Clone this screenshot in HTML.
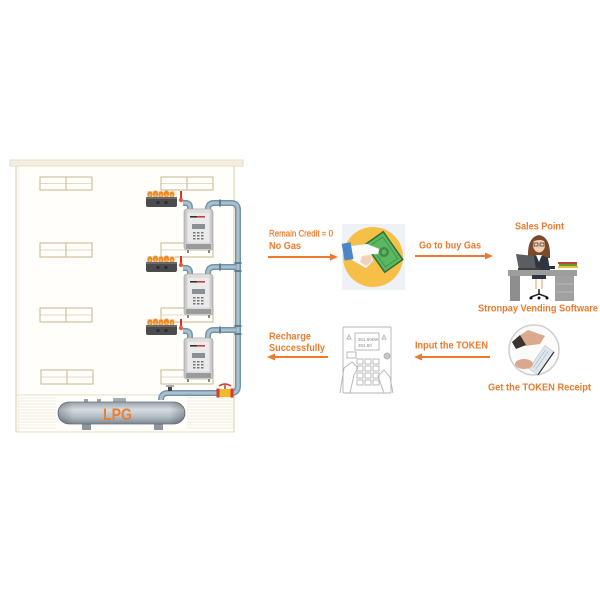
<!DOCTYPE html>
<html><head><meta charset="utf-8">
<style>
html,body{margin:0;padding:0;background:#fff;}
svg{display:block;}
text{font-family:"Liberation Sans",Arial,sans-serif;fill:#ee7b2d;font-weight:bold;}
</style></head>
<body>
<svg width="600" height="600" viewBox="0 0 600 600" xmlns="http://www.w3.org/2000/svg">
<defs>
<linearGradient id="tank" x1="0" y1="0" x2="0" y2="1">
<stop offset="0" stop-color="#97a2ab"/>
<stop offset="0.35" stop-color="#d6dce1"/>
<stop offset="0.7" stop-color="#b0b9c0"/>
<stop offset="1" stop-color="#7b8790"/>
</linearGradient>
<linearGradient id="tankEnd" x1="0" y1="0" x2="1" y2="0">
<stop offset="0" stop-color="#000" stop-opacity="0.25"/>
<stop offset="0.12" stop-color="#000" stop-opacity="0"/>
<stop offset="0.88" stop-color="#000" stop-opacity="0"/>
<stop offset="1" stop-color="#000" stop-opacity="0.25"/>
</linearGradient>
<linearGradient id="meterG" x1="0" y1="0" x2="1" y2="0">
<stop offset="0" stop-color="#bdbdbd"/>
<stop offset="0.15" stop-color="#e0e0e0"/>
<stop offset="0.85" stop-color="#e4e4e4"/>
<stop offset="1" stop-color="#b8b8b8"/>
</linearGradient>
<g id="meter">
<rect x="0" y="0" width="29" height="41" rx="3" fill="url(#meterG)" stroke="#a9a9a9" stroke-width="0.7"/>
<rect x="3" y="3" width="23" height="31" rx="1.5" fill="#eaeaea" stroke="#c4c4c4" stroke-width="0.5"/>
<rect x="6" y="7" width="7" height="1.6" fill="#333"/>
<rect x="13" y="7" width="8" height="1.6" fill="#d23a3a"/>
<rect x="8" y="15" width="13" height="5" fill="#8a8f93"/>
<g fill="#777">
<rect x="9" y="23" width="2.5" height="1.5"/><rect x="13" y="23" width="2.5" height="1.5"/><rect x="17" y="23" width="2.5" height="1.5"/>
<rect x="9" y="26" width="2.5" height="1.5"/><rect x="13" y="26" width="2.5" height="1.5"/><rect x="17" y="26" width="2.5" height="1.5"/>
<rect x="9" y="29" width="2.5" height="1.5"/><rect x="13" y="29" width="2.5" height="1.5"/><rect x="17" y="29" width="2.5" height="1.5"/>
</g>
<rect x="2" y="35" width="25" height="5" fill="#9a9a9a"/>
<rect x="3" y="41" width="2" height="3" fill="#888"/><rect x="24" y="41" width="2" height="3" fill="#888"/>
</g>
<g id="stove">
<rect x="147" y="-6" width="28" height="6" fill="#efe6d6"/>
<g fill="#f08a28">
<ellipse cx="150" cy="-2.5" rx="2.6" ry="3.2"/><ellipse cx="155.5" cy="-3" rx="2.6" ry="3.5"/><ellipse cx="161" cy="-2.5" rx="2.6" ry="3.2"/><ellipse cx="166.5" cy="-3" rx="2.6" ry="3.5"/><ellipse cx="172" cy="-2.5" rx="2.4" ry="3"/>
</g>
<g fill="#f7b558">
<ellipse cx="150" cy="-1.5" rx="1.2" ry="1.5"/><ellipse cx="155.5" cy="-1.5" rx="1.2" ry="1.5"/><ellipse cx="161" cy="-1.5" rx="1.2" ry="1.5"/><ellipse cx="166.5" cy="-1.5" rx="1.2" ry="1.5"/><ellipse cx="172" cy="-1.5" rx="1.2" ry="1.5"/>
</g>
<rect x="146" y="0" width="31" height="10" rx="2" fill="#4b4b4b"/>
<rect x="146" y="0" width="31" height="2" fill="#6a6a6a"/>
<circle cx="158" cy="5.5" r="1.5" fill="#2a2a2a"/><circle cx="166" cy="5.5" r="1.5" fill="#2a2a2a"/>
<rect x="180" y="-6" width="2" height="8" fill="#d8322a"/>
<circle cx="181" cy="3" r="2.2" fill="#e0623a"/>
</g>
</defs>

<!-- Building -->
<rect x="16" y="166" width="219" height="266" fill="#fffefb"/>
<path d="M10 160 H243 V166 H10 Z" fill="#f6f1e3" stroke="#ddd2b8" stroke-width="0.8"/>
<line x1="10" y1="163" x2="243" y2="163" stroke="#e6dcc6" stroke-width="0.6"/>
<line x1="16" y1="166" x2="16" y2="432" stroke="#d9cdb1" stroke-width="1"/>
<line x1="18" y1="166" x2="18" y2="432" stroke="#ece4d2" stroke-width="0.6"/>
<line x1="234" y1="166" x2="234" y2="432" stroke="#d9cdb1" stroke-width="1"/>
<line x1="16" y1="395" x2="235" y2="395" stroke="#ddd2b8" stroke-width="0.8"/>
<line x1="16" y1="432" x2="235" y2="432" stroke="#ddd2b8" stroke-width="0.8"/>
<g stroke="#e3d9c3" stroke-width="0.6">
<line x1="18" y1="398" x2="56" y2="398"/><line x1="18" y1="401" x2="56" y2="401"/><line x1="18" y1="404" x2="56" y2="404"/><line x1="18" y1="407" x2="56" y2="407"/><line x1="18" y1="410" x2="56" y2="410"/><line x1="18" y1="413" x2="56" y2="413"/><line x1="18" y1="416" x2="56" y2="416"/><line x1="18" y1="419" x2="56" y2="419"/><line x1="18" y1="422" x2="56" y2="422"/><line x1="18" y1="425" x2="56" y2="425"/><line x1="18" y1="428" x2="56" y2="428"/>
<line x1="187" y1="398" x2="233" y2="398"/><line x1="187" y1="401" x2="233" y2="401"/><line x1="187" y1="404" x2="233" y2="404"/><line x1="187" y1="407" x2="233" y2="407"/><line x1="187" y1="410" x2="233" y2="410"/><line x1="187" y1="413" x2="233" y2="413"/><line x1="187" y1="416" x2="233" y2="416"/><line x1="187" y1="419" x2="233" y2="419"/><line x1="187" y1="422" x2="233" y2="422"/><line x1="187" y1="425" x2="233" y2="425"/><line x1="187" y1="428" x2="233" y2="428"/>
</g>
<!-- windows -->
<g fill="none" stroke="#c9b68e" stroke-width="1">
<rect x="40" y="177" width="52" height="13"/><line x1="66" y1="177" x2="66" y2="190"/><line x1="40" y1="183.5" x2="92" y2="183.5" stroke-width="0.6"/>
<rect x="161" y="177" width="52" height="13"/><line x1="187" y1="177" x2="187" y2="190"/><line x1="161" y1="183.5" x2="213" y2="183.5" stroke-width="0.6"/>
<rect x="40" y="243" width="52" height="14"/><line x1="66" y1="243" x2="66" y2="257"/><line x1="40" y1="250" x2="92" y2="250" stroke-width="0.6"/>
<rect x="161" y="243" width="52" height="14"/><line x1="161" y1="250" x2="213" y2="250" stroke-width="0.6"/>
<rect x="40" y="308" width="52" height="14"/><line x1="66" y1="308" x2="66" y2="322"/><line x1="40" y1="315" x2="92" y2="315" stroke-width="0.6"/>
<rect x="161" y="308" width="52" height="14"/><line x1="161" y1="315" x2="213" y2="315" stroke-width="0.6"/>
<rect x="41" y="370" width="52" height="14"/><line x1="67" y1="370" x2="67" y2="384"/><line x1="41" y1="377" x2="93" y2="377" stroke-width="0.6"/>
<rect x="161" y="370" width="52" height="14"/><line x1="161" y1="377" x2="213" y2="377" stroke-width="0.6"/>
</g>

<!-- stoves -->
<use href="#stove" transform="translate(0,197)"/>
<use href="#stove" transform="translate(0,262)"/>
<use href="#stove" transform="translate(0,325)"/>

<!-- pipes -->
<g fill="none" stroke-linecap="butt">
<g stroke="#7393a8" stroke-width="6">
<path d="M208 212 V209 Q208 203 214 203 H231 Q238 203 238 210 V386 Q238 393 231 393 H168 Q161 393 161 400"/>
<path d="M208 276 V273 Q208 267 214 267 H238"/>
<path d="M208 340 V336 Q208 330 214 330 H238"/>
<path d="M183 203 H186 Q190 203 190 208 V212"/>
<path d="M183 268 H186 Q190 268 190 273 V276"/>
<path d="M183 331 H186 Q190 331 190 336 V340"/>
</g>
<g stroke="#a9c1cf" stroke-width="3">
<path d="M208 212 V209 Q208 203 214 203 H231 Q238 203 238 210 V386 Q238 393 231 393 H168 Q161 393 161 400"/>
<path d="M208 276 V273 Q208 267 214 267 H236"/>
<path d="M208 340 V336 Q208 330 214 330 H236"/>
<path d="M183 203 H186 Q190 203 190 208 V212"/>
<path d="M183 268 H186 Q190 268 190 273 V276"/>
<path d="M183 331 H186 Q190 331 190 336 V340"/>
</g>
</g>
<g fill="#5d7d93">
<rect x="234.5" y="262" width="7" height="2"/><rect x="234.5" y="270" width="7" height="2"/>
<rect x="234.5" y="325" width="7" height="2"/><rect x="234.5" y="333" width="7" height="2"/>
<rect x="219" y="199.5" width="2" height="7"/><rect x="219" y="263.5" width="2" height="7"/><rect x="219" y="326.5" width="2" height="7"/>
</g>

<!-- meters -->
<use href="#meter" transform="translate(184,209)"/>
<use href="#meter" transform="translate(184,274)"/>
<use href="#meter" transform="translate(184,338)"/>

<!-- valves on bottom pipe -->
<rect x="168" y="387" width="4" height="4" fill="#444"/>
<line x1="166" y1="386" x2="174" y2="386" stroke="#555" stroke-width="1"/>
<rect x="219" y="389" width="12" height="8" fill="#f1b92b"/>
<rect x="216.5" y="388.5" width="3" height="9" fill="#d63b2b"/>
<rect x="230.5" y="388.5" width="3" height="9" fill="#d63b2b"/>
<line x1="225" y1="389" x2="225" y2="385" stroke="#c33" stroke-width="1.5"/>
<path d="M219 386 Q225 382 231 386" fill="none" stroke="#d63b2b" stroke-width="1.5"/>

<!-- tank -->
<rect x="82" y="421" width="9" height="9" fill="#8b969e"/>
<rect x="154" y="421" width="9" height="9" fill="#8b969e"/>
<rect x="84" y="399" width="4" height="4" fill="#99a3ab"/>
<rect x="97" y="399" width="4" height="4" fill="#99a3ab"/>
<rect x="113" y="398" width="13" height="5" rx="1" fill="#a3adb4"/>
<rect x="58" y="402" width="127" height="22" rx="11" fill="url(#tank)" stroke="#65717a" stroke-width="0.8"/>
<rect x="58" y="402" width="127" height="22" rx="11" fill="url(#tankEnd)"/>
<text x="103" y="420" font-size="17" textLength="29" lengthAdjust="spacingAndGlyphs" style="fill:#ec7f2f">LPG</text>

<!-- labels -->
<text x="269" y="236.5" font-size="9" textLength="64" lengthAdjust="spacingAndGlyphs" style="font-weight:normal;stroke:#ee7b2d;stroke-width:0.25">Remain Credit = 0</text>
<text x="269" y="249" font-size="10.5" textLength="32" lengthAdjust="spacingAndGlyphs">No Gas</text>
<text x="419" y="248.5" font-size="10" textLength="62" lengthAdjust="spacingAndGlyphs">Go to buy Gas</text>
<text x="515" y="229.5" font-size="10" textLength="49" lengthAdjust="spacingAndGlyphs">Sales Point</text>
<text x="478" y="311.5" font-size="10" textLength="120" lengthAdjust="spacingAndGlyphs">Stronpay Vending Software</text>
<text x="269" y="339.5" font-size="10" textLength="42" lengthAdjust="spacingAndGlyphs">Recharge</text>
<text x="269" y="351" font-size="10" textLength="56" lengthAdjust="spacingAndGlyphs">Successfully</text>
<text x="415" y="348.5" font-size="10" textLength="73" lengthAdjust="spacingAndGlyphs">Input the TOKEN</text>
<text x="488" y="390.5" font-size="10" textLength="103" lengthAdjust="spacingAndGlyphs">Get the TOKEN Receipt</text>

<!-- arrows -->
<g stroke="#ee7b2d" stroke-width="2">
<line x1="268" y1="257" x2="331" y2="257"/>
<line x1="415" y1="256" x2="486" y2="256"/>
<line x1="328" y1="357" x2="274" y2="357"/>
<line x1="490" y1="357" x2="421" y2="357"/>
</g>
<g fill="#ee7b2d">
<polygon points="338,257 330,253.5 330,260.5"/>
<polygon points="493,256 485,252.5 485,259.5"/>
<polygon points="267,357 275,353.5 275,360.5"/>
<polygon points="414,357 422,353.5 422,360.5"/>
</g>

<!-- money icon -->
<rect x="342" y="224" width="63" height="66" fill="#eef1f5"/>
<circle cx="373" cy="257" r="30" fill="#f6bf48"/>
<g transform="translate(384,252) rotate(-35)">
<rect x="-11" y="-17" width="22" height="34" fill="#5cb860" stroke="#2f6d36" stroke-width="1.5"/>
<rect x="-7.5" y="-13" width="15" height="26" fill="none" stroke="#3f8f47" stroke-width="0.8"/>
<circle cx="0" cy="0" r="5" fill="#3e8b46"/>
<circle cx="0" cy="0" r="2.5" fill="#5cb860"/>
</g>
<path d="M351 246 L367 244 L379 249 L378 254 L371 254 L373 261 L366 268 L352 260 Z" fill="#fafafa" stroke="#dcdcdc" stroke-width="0.6"/>
<path d="M362 256 L371 255 L372 261 L366 266 L360 262 Z" fill="#f1d2b8"/>
<rect x="343" y="243" width="9" height="17" fill="#4b86c6" transform="rotate(-10 347 251)"/>

<!-- sales point woman -->
<path d="M528 258 Q527 237 539 235 Q551 237 550 258 Z" fill="#7b4a2a"/>
<ellipse cx="539" cy="245" rx="6" ry="7.5" fill="#f4d1b2"/>
<path d="M532 242 Q535 234 539 236 Q545 236 546 242 Q540 238 532 242 Z" fill="#7b4a2a"/>
<rect x="534" y="243" width="4" height="3" fill="none" stroke="#333" stroke-width="0.7"/>
<rect x="540" y="243" width="4" height="3" fill="none" stroke="#333" stroke-width="0.7"/>
<path d="M529 270 L530 258 Q539 253 548 258 L550 270 Z" fill="#2e3540"/>
<path d="M536 255 L539 262 L542 255 Z" fill="#fff"/>
<path d="M516 254 L534 256 L536 270 L519 270 Z" fill="#5a5d62"/>
<rect x="518" y="268" width="22" height="2" fill="#3e4044"/>
<rect x="547" y="266" width="8" height="3" fill="#2e3540"/>
<rect x="558" y="266" width="20" height="2" fill="#e6c23a"/>
<rect x="559" y="264" width="18" height="2" fill="#5b9b3b"/>
<rect x="558" y="262" width="19" height="2" fill="#c0443a"/>
<rect x="508" y="270" width="69" height="6" fill="#9d9d9d"/>
<rect x="510" y="276" width="10" height="25" fill="#8e8e8e"/>
<rect x="555" y="276" width="19" height="25" fill="#a0a0a0"/>
<line x1="556" y1="284" x2="573" y2="284" stroke="#c0c0c0" stroke-width="0.7"/>
<line x1="556" y1="292" x2="573" y2="292" stroke="#c0c0c0" stroke-width="0.7"/>
<g stroke="#f1cdb0" stroke-width="2"><line x1="536" y1="276" x2="536" y2="289"/><line x1="542" y1="276" x2="542" y2="289"/></g>
<rect x="532" y="275" width="14" height="4" fill="#2e3540"/>
<line x1="539" y1="289" x2="539" y2="295" stroke="#222" stroke-width="1.5"/>
<path d="M531 297 L539 294 L547 297" fill="none" stroke="#222" stroke-width="1.5"/>
<circle cx="531" cy="298" r="1.5" fill="#111"/><circle cx="539" cy="298" r="1.5" fill="#111"/><circle cx="547" cy="298" r="1.5" fill="#111"/>

<!-- token meter drawing -->
<g fill="none" stroke="#b4b4b4" stroke-width="0.9">
<rect x="343" y="327" width="48" height="66" rx="1"/>
<rect x="355" y="333" width="24" height="17"/>
<path d="M347 339 l2 -4 l2 4 z"/><path d="M382 339 l2 -4 l2 4 z"/>
<rect x="347" y="352" width="9" height="6"/>
<circle cx="387" cy="356" r="3" fill="#c8c8c8"/>
<rect x="357" y="359" width="6" height="5"/><rect x="365" y="359" width="6" height="5"/><rect x="373" y="359" width="6" height="5"/>
<rect x="357" y="366" width="6" height="5"/><rect x="365" y="366" width="6" height="5"/><rect x="373" y="366" width="6" height="5"/>
<rect x="357" y="373" width="6" height="5"/><rect x="365" y="373" width="6" height="5"/><rect x="373" y="373" width="6" height="5"/>
<rect x="357" y="380" width="6" height="5"/><rect x="365" y="380" width="6" height="5"/><rect x="373" y="380" width="6" height="5"/>
<path d="M340 393 L344 368 L352 362 L358 368 L354 375 L350 393"/>
<path d="M393 393 L390 377 L384 370 L378 376 L384 393"/>
</g>
<text x="358" y="341" font-size="4.5" style="fill:#888;font-weight:normal">301.60kW</text>
<text x="358" y="347" font-size="4.5" style="fill:#888;font-weight:normal">301.60</text>

<!-- receipt circle -->
<circle cx="534" cy="350" r="25" fill="#fbfbfb" stroke="#cfcfcf" stroke-width="1.5"/>
<path d="M516 338 L528 330 L545 336 L540 344 L525 346 Z" fill="#dba98c"/>
<path d="M512 342 L520 335 L526 345 L516 349 Z" fill="#3a3330"/>
<g transform="rotate(-55 541 360)">
<rect x="527" y="355" width="28" height="11" fill="#dfe6ec" stroke="#b8c2ca" stroke-width="0.6"/>
<line x1="530" y1="358" x2="552" y2="358" stroke="#aab4bc" stroke-width="0.6"/>
<line x1="530" y1="361" x2="552" y2="361" stroke="#aab4bc" stroke-width="0.6"/>
<line x1="527" y1="366" x2="555" y2="366" stroke="#333" stroke-width="1.2"/>
</g>
<ellipse cx="524" cy="364" rx="9" ry="5" fill="#dca78a"/>
</svg>
</body></html>
